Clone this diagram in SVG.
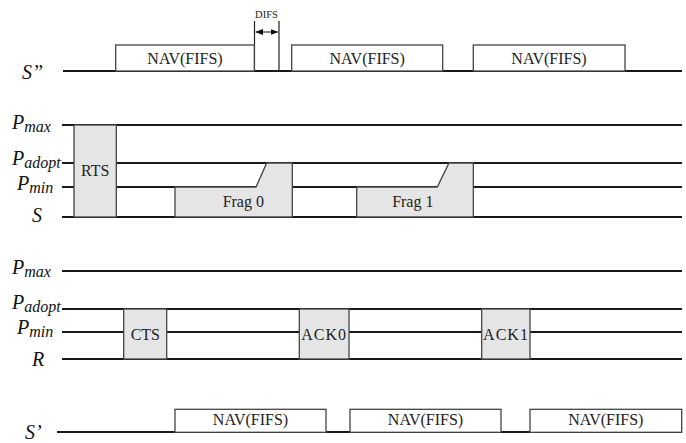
<svg xmlns="http://www.w3.org/2000/svg" width="686" height="443" viewBox="0 0 686 443">
<style>
.ln{stroke:#1a1a1a;stroke-width:2;fill:none}
.nav{fill:#fff;stroke:#444;stroke-width:1.3}
.pk{fill:#e5e5e5;stroke:#444;stroke-width:1.3}
.t{font-family:'Liberation Serif','Times New Roman',serif;font-size:16px;fill:#222;text-anchor:middle}
.lab{font-family:'Liberation Serif','Times New Roman',serif;font-style:italic;font-size:20px;fill:#111}
.sub{font-size:16px}
</style>
<defs>
<marker id="ah" markerWidth="8" markerHeight="6" refX="7" refY="3" orient="auto-start-reverse" markerUnits="userSpaceOnUse">
<path d="M0,0 L8,3 L0,6 Z" fill="#111"/>
</marker>
</defs>
<g id="connectors">
<line class="ln" x1="63" y1="71" x2="682" y2="71"/>
<line class="ln" x1="62" y1="125" x2="682" y2="125"/>
<line class="ln" x1="62" y1="163" x2="682" y2="163"/>
<line class="ln" x1="62" y1="187" x2="682" y2="187"/>
<line class="ln" x1="62" y1="217" x2="682" y2="217"/>
<line class="ln" x1="62" y1="271" x2="682" y2="271"/>
<line class="ln" x1="62" y1="309" x2="682" y2="309"/>
<line class="ln" x1="62" y1="332" x2="682" y2="332"/>
<line class="ln" x1="62" y1="359" x2="682" y2="359"/>
<line class="ln" x1="57" y1="432" x2="682" y2="432"/>
<line x1="254.5" y1="21" x2="254.5" y2="71" stroke="#222" stroke-width="1.2"/>
<line x1="279" y1="21" x2="279" y2="71" stroke="#222" stroke-width="1.2"/>
<line x1="256" y1="32" x2="277.5" y2="32" stroke="#111" stroke-width="1" marker-start="url(#ah)" marker-end="url(#ah)"/>
</g>
<g id="labels" font-family="Liberation Serif, serif">
<text class="lab" x="22" y="79">S”</text>
<text class="lab" x="12" y="129">P<tspan class="sub" dy="3">max</tspan></text>
<text class="lab" x="12" y="165">P<tspan class="sub" dy="3">adopt</tspan></text>
<text class="lab" x="17" y="190">P<tspan class="sub" dy="3">min</tspan></text>
<text class="lab" x="32" y="222">S</text>
<text class="lab" x="12" y="274">P<tspan class="sub" dy="3">max</tspan></text>
<text class="lab" x="12" y="309">P<tspan class="sub" dy="3">adopt</tspan></text>
<text class="lab" x="17" y="334">P<tspan class="sub" dy="3">min</tspan></text>
<text class="lab" x="32" y="366">R</text>
<text class="lab" x="25" y="439">S’</text>
<text x="266.5" y="18" style="font-family:'Liberation Serif',serif;font-size:10.5px;fill:#222;text-anchor:middle">DIFS</text>
</g>
<g font-family="Liberation Serif, serif">
<g id="nav1"><rect class="nav" x="115.7" y="45" width="138.6" height="26"/><text class="t" x="185" y="63.5">NAV(FIFS)</text></g>
<g id="nav2"><rect class="nav" x="291.7" y="45" width="151" height="26"/><text class="t" x="367.2" y="63.5">NAV(FIFS)</text></g>
<g id="nav3"><rect class="nav" x="473.3" y="45" width="151.7" height="26"/><text class="t" x="549" y="63.5">NAV(FIFS)</text></g>
<g id="rts"><rect class="pk" x="74" y="125" width="42.3" height="92"/><text class="t" x="95.2" y="176">RTS</text></g>
<g id="frag0"><path class="pk" d="M175,217 L175,187 L256,187 L266.7,163 L292.3,163 L292.3,217 Z"/><text class="t" x="243.3" y="206.5">Frag 0</text></g>
<g id="frag1"><path class="pk" d="M356.7,217 L356.7,187 L437.3,187 L449,163 L473.3,163 L473.3,217 Z"/><text class="t" x="412.8" y="206.5">Frag 1</text></g>
<g id="cts"><rect class="pk" x="123.7" y="309" width="43" height="50"/><text class="t" x="145.3" y="340">CTS</text></g>
<g id="ack0"><rect class="pk" x="299.3" y="309" width="49.7" height="50"/><text class="t" x="324.2" y="340" style="letter-spacing:1px">ACK0</text></g>
<g id="ack1"><rect class="pk" x="481.7" y="309" width="48.3" height="50"/><text class="t" x="506" y="340" style="letter-spacing:1px">ACK1</text></g>
<g id="nav4"><rect class="nav" x="175" y="409.3" width="151" height="23"/><text class="t" x="250.5" y="425">NAV(FIFS)</text></g>
<g id="nav5"><rect class="nav" x="350" y="409.3" width="151" height="23"/><text class="t" x="425.5" y="425">NAV(FIFS)</text></g>
<g id="nav6"><rect class="nav" x="530" y="409.3" width="151.7" height="23"/><text class="t" x="605.8" y="425">NAV(FIFS)</text></g>
</g>
</svg>
